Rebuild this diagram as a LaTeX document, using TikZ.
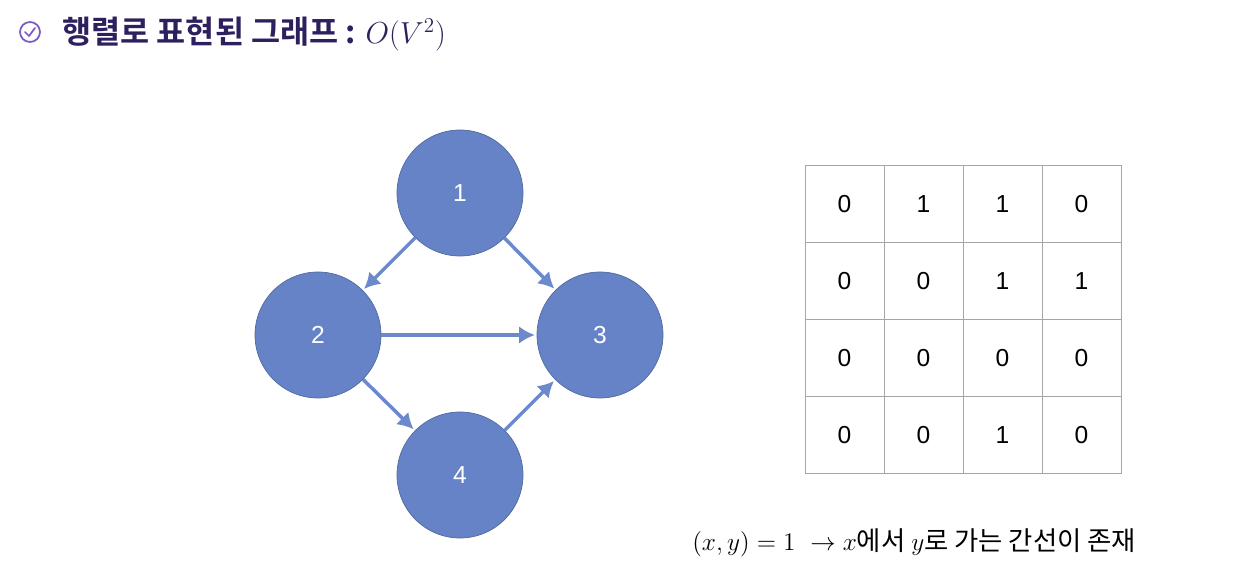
\documentclass[tikz,border=0pt]{standalone}
\usepackage{fontspec}
\setsansfont{Liberation Sans}
\newfontfamily\kor{Noto Sans CJK KR}
\newfontfamily\korb{Noto Sans CJK KR Bold}
\usetikzlibrary{arrows.meta}
\definecolor{nodeblue}{HTML}{6583C6}
\definecolor{edgeblue}{HTML}{6C8ACB}
\definecolor{titlepurple}{HTML}{2E1F5E}
\definecolor{iconpurple}{HTML}{7B5CC8}

\begin{document}
\begin{tikzpicture}[
		x=0.02cm, y=-0.02cm,
		vertex/.style={circle, draw=nodeblue!80!black, fill=nodeblue, minimum size=2.52cm,
			inner sep=0pt, text=white, font=\sffamily\fontsize{14}{16}\selectfont},
		link/.style={draw=edgeblue, line width=2pt, -{Latex[length=9pt,width=10pt]}, shorten >=1pt},
		cell/.style={draw=gray!70, minimum width=1.58cm, minimum height=1.54cm,
			inner sep=0pt, font=\sffamily\fontsize{14}{16}\selectfont}
	]
	\useasboundingbox (0,0) rectangle (1242,588);
	% title
	\node[circle, draw=iconpurple, line width=1pt, minimum size=0.4cm, inner sep=0pt] (icon) at (30,32) {};
	\draw[iconpurple, line width=1pt, line cap=round, line join=round] (25,32) -- (29,36) -- (35,28);
	\node[anchor=west, text=titlepurple, inner sep=0pt] (title) at (62,34)
		{\korb\fontsize{18}{20}\selectfont 행렬로 표현된 그래프 : \normalfont\fontsize{18}{20}\selectfont$O(V^2)$};
	% graph
	\node[vertex] (v1) at (460,193) {1};
	\node[vertex] (v2) at (318,335) {2};
	\node[vertex] (v3) at (600,335) {3};
	\node[vertex] (v4) at (460,475) {4};
	\draw[link] (v1) -- (v2);
	\draw[link] (v1) -- (v3);
	\draw[link] (v2) -- (v3);
	\draw[link] (v2) -- (v4);
	\draw[link] (v4) -- (v3);
	% matrix
	\foreach \row/\vals in {0/{0,1,1,0},1/{0,0,1,1},2/{0,0,0,0},3/{0,0,1,0}}{
		\foreach \v [count=\col from 0] in \vals{
			\node[cell] (c\row\col) at (844.5+79*\col, 204+77*\row) {\v};
		}
	}
	\node[anchor=west, inner sep=0pt] (note) at (692,543)
		{\fontsize{15}{18}\selectfont$(x,y)=1\ \rightarrow x$\kor 에서 $y$로 가는 간선이 존재};
\end{tikzpicture}
\end{document}
